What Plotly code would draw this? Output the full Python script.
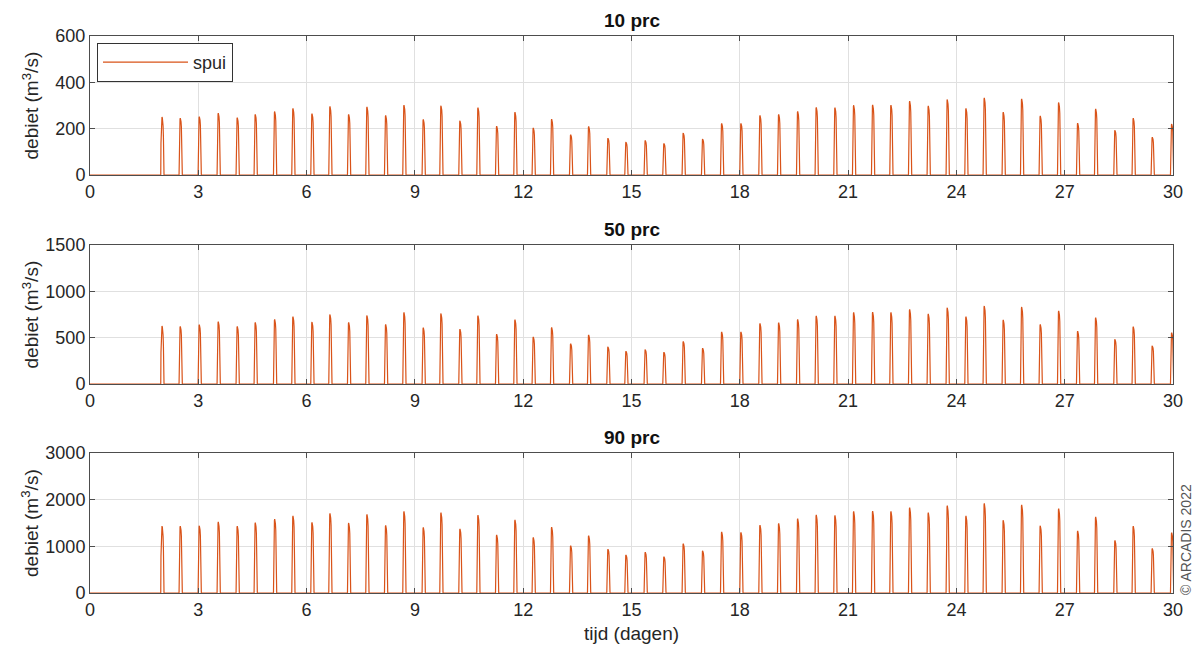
import plotly.graph_objects as go

# ---- data ----
peak_days = [1.994, 2.501, 3.028, 3.554, 4.080, 4.579, 5.116, 5.623, 6.150, 6.648,
             7.166, 7.673, 8.191, 8.698, 9.233, 9.723, 10.249, 10.748, 11.266, 11.773,
             12.280, 12.789, 13.316, 13.814, 14.349, 14.848, 15.382, 15.900, 16.435, 16.972,
             17.499, 18.033, 18.560, 19.078, 19.604, 20.119, 20.637, 21.155, 21.681, 22.188,
             22.706, 23.222, 23.748, 24.266, 24.773, 25.299, 25.809, 26.324, 26.834, 27.360,
             27.859, 28.393, 28.900, 29.427, 29.964]

q10 = [250, 245, 252, 267, 248, 262, 274, 288, 265, 296, 262, 294, 257, 302, 240, 299, 234, 291,
       211, 271, 203, 241, 174, 210, 159, 142, 149, 136, 181, 155, 223, 223, 257, 262, 275, 292,
       291, 301, 303, 302, 319, 298, 326, 288, 333, 271, 329, 255, 313, 224, 285, 193, 245, 163, 220]
q50 = [625, 621, 640, 673, 621, 665, 698, 728, 669, 750, 665, 739, 643, 772, 607, 761, 592, 739,
       537, 695, 507, 610, 434, 529, 401, 353, 371, 342, 460, 386, 562, 562, 654, 662, 698, 735,
       735, 772, 776, 772, 805, 757, 823, 728, 842, 691, 831, 643, 790, 570, 717, 482, 618, 412, 555]
q90 = [1434, 1434, 1441, 1522, 1434, 1507, 1581, 1654, 1515, 1706, 1500, 1684, 1449, 1750, 1404,
       1721, 1375, 1669, 1243, 1566, 1191, 1412, 1015, 1228, 941, 816, 875, 779, 1059, 904, 1309,
       1301, 1456, 1493, 1596, 1676, 1662, 1750, 1757, 1750, 1831, 1721, 1875, 1654, 1919, 1559,
       1890, 1441, 1809, 1331, 1632, 1125, 1434, 956, 1294]

# shape of a single discharge pulse (offset in days relative to peak, fraction of peak)
pulse_offset = [-0.034, -0.028, -0.018, -0.007, 0.0, 0.010, 0.020, 0.030, 0.040, 0.049, 0.056]
pulse_frac = [0.0, 0.55, 0.90, 0.985, 1.0, 0.985, 0.94, 0.85, 0.65, 0.30, 0.0]

titles = ["10 prc", "50 prc", "90 prc"]
series = [q10, q50, q90]
y_max = [600, 1500, 3000]
y_dtick = [200, 500, 1000]
x_ticks = list(range(0, 31, 3))

W, H = 1195, 653
ML, MR, MT, MB = 90, 22, 36, 60
plot_w = W - ML - MR
plot_h = H - MT - MB
bottom_px = H - MB
panel_px = [(36, 175), (245, 384), (453, 593)]

def frac(p):
    return (bottom_px - p) / plot_h

def xfrac(p):
    return (p - ML) / plot_w

COLOR = "#D95319"
FONT = "Liberation Sans, Arial, Helvetica, sans-serif"
AXC = "#4d4d4d"
TXT = "#262626"

def build(vals):
    xs, ys = [0.0], [0.0]
    for t, v in zip(peak_days, vals):
        for o, f in zip(pulse_offset, pulse_frac):
            xs.append(t + o)
            ys.append(v * f)
    xs.append(30.5)
    ys.append(0.0)
    return xs, ys

fig = go.Figure()
for i, (vals, title) in enumerate(zip(series, titles)):
    xs, ys = build(vals)
    sfx = "" if i == 0 else str(i + 1)
    fig.add_trace(go.Scatter(x=xs, y=ys, mode="lines", name="spui",
                             line=dict(color=COLOR, width=1.2),
                             showlegend=(i == 0),
                             xaxis="x" + sfx, yaxis="y" + sfx))
    top, bot = panel_px[i]
    common = dict(showline=True, linecolor=AXC, linewidth=1, mirror="ticks",
                  ticks="inside", ticklen=5, tickcolor=AXC, showgrid=True,
                  gridcolor="#e0e0e0", gridwidth=1, zeroline=False,
                  tickfont=dict(family=FONT, size=18, color=TXT))
    fig.layout["xaxis" + sfx] = dict(domain=[0, 1], anchor="y" + sfx, range=[0, 30],
                                     tickvals=x_ticks, **common)
    fig.layout["yaxis" + sfx] = dict(domain=[frac(bot), frac(top)], anchor="x" + sfx,
                                     range=[0, y_max[i]], dtick=y_dtick[i], **common)
    fig.add_annotation(text="<b>" + title + "</b>", xref="paper", yref="paper",
                       x=0.5, y=frac(top) + 3 / plot_h, xanchor="center", yanchor="bottom",
                       showarrow=False, font=dict(family=FONT, size=19, color="#111111"))
    fig.add_annotation(text="debiet (m<sup>3</sup>/s)", xref="paper", yref="paper",
                       x=xfrac(30), y=frac((top + bot) / 2), textangle=-90,
                       xanchor="center", yanchor="middle", showarrow=False,
                       font=dict(family=FONT, size=19, color=TXT))

fig.add_annotation(text="tijd (dagen)", xref="paper", yref="paper", x=0.5,
                   y=frac(633), xanchor="center", yanchor="middle", showarrow=False,
                   font=dict(family=FONT, size=19, color=TXT))
fig.add_annotation(text="© ARCADIS 2022", xref="paper", yref="paper",
                   x=xfrac(1186), y=frac(540), textangle=-90,
                   xanchor="center", yanchor="middle", showarrow=False,
                   font=dict(family=FONT, size=14, color="#555555"))

fig.update_layout(
    width=W, height=H, margin=dict(l=ML, r=MR, t=MT, b=MB),
    paper_bgcolor="white", plot_bgcolor="white",
    font=dict(family=FONT),
    legend=dict(x=xfrac(97), y=frac(43), xanchor="left", yanchor="top",
                bgcolor="white", bordercolor="#333333", borderwidth=1,
                font=dict(family=FONT, size=18, color=TXT), itemwidth=85),
)

fig.write_html("out.html")
